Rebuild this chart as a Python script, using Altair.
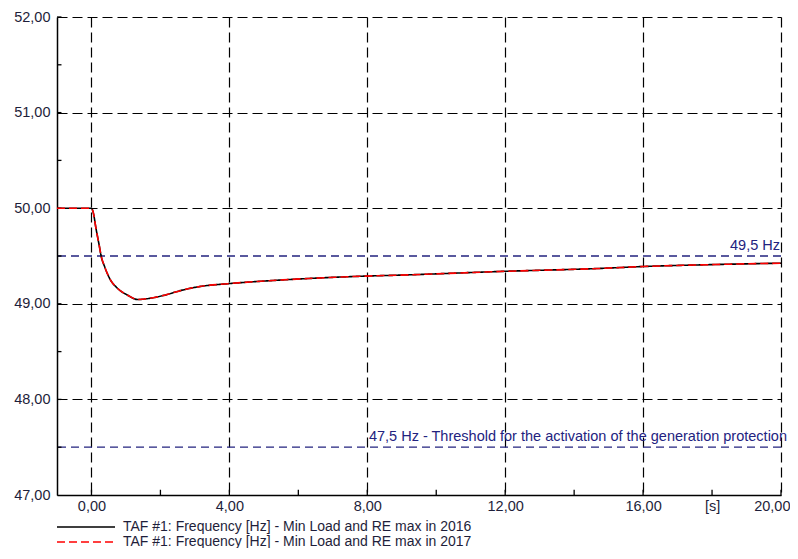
import altair as alt
import pandas as pd

# ---- data ----
t_2016 = [-1, 0, 0.04, 0.14, 0.23, 0.28, 0.38, 0.52, 0.76, 1.05, 1.34, 1.73, 2.12, 2.6,
          3.13, 3.96, 5.55, 7.97, 8.94, 12.0, 14.75, 16.0, 18.0, 20.0]
f_2016 = [50.0, 50.0, 49.97, 49.77, 49.60, 49.50, 49.39, 49.27, 49.16, 49.09, 49.045, 49.06,
          49.09, 49.14, 49.18, 49.21, 49.25, 49.29, 49.30, 49.34, 49.37, 49.39, 49.41, 49.425]
t_2017 = list(t_2016)
f_2017 = list(f_2016)

series_names = ["TAF #1: Frequency [Hz] - Min Load and RE max in 2016",
                "TAF #1: Frequency [Hz] - Min Load and RE max in 2017"]
series_colors = ["#000000", "#ff0000"]
series_dashes = [[1, 0], [8, 4]]
thresholds = [49.5, 47.5]
threshold_labels = ["49,5 Hz", "47,5 Hz - Threshold for the activation of the generation protection"]
x_ticks = [0, 4, 8, 12, 16, 18, 20]
x_minor = [2, 6, 10, 14, 18]
x_major = [0, 4, 8, 12, 16, 20]
y_ticks = [47, 48, 49, 50, 51, 52]
y_minor = [47.5, 48.5, 49.5, 50.5, 51.5]
y_major = [48, 49, 50, 51, 52]

FONT = "Liberation Sans"
FS = 14.5
NAVY = "#23237f"
LABEL = "#1e1e3a"

rows = []
for t, f in zip(t_2016, f_2016):
    rows.append({"t": t, "f": f, "series": series_names[0]})
for t, f in zip(t_2017, f_2017):
    rows.append({"t": t, "f": f, "series": series_names[1]})
df = pd.DataFrame(rows)

xscale = alt.Scale(domain=[-1, 20], nice=False, zero=False)
yscale = alt.Scale(domain=[47, 52], nice=False, zero=False)

fmt = "replace(format(datum.value, '.2f'), '.', ',')"

base_x = alt.X("t:Q", scale=xscale, title=None,
               axis=alt.Axis(values=x_ticks,
                             labelExpr=f"datum.value == 18 ? '[s]' : {fmt}",
                             grid=True, gridDash=[10, 5], gridColor="#000000", gridWidth=1.2,
                             gridOpacity={"condition": {"test": "datum.value == 18", "value": 0}, "value": 1},
                             ticks=False, domainColor="#000000", domainWidth=1.5,
                             labelFont=FONT, labelFontSize=FS, labelColor=LABEL,
                             labelPadding=4, labelFlush=True, labelFlushOffset=9))
base_y = alt.Y("f:Q", scale=yscale, title=None,
               axis=alt.Axis(values=y_ticks, labelExpr=fmt,
                             grid=True, gridDash=[10, 5], gridColor="#000000", gridWidth=1.2,
                             ticks=False, domainColor="#000000", domainWidth=1.5,
                             labelFont=FONT, labelFontSize=FS, labelColor=LABEL,
                             labelPadding=7))

lines = alt.Chart(df).mark_line(strokeWidth=1.6, interpolate="monotone").encode(
    x=base_x,
    y=base_y,
    color=alt.Color("series:N", scale=alt.Scale(domain=series_names, range=series_colors),
                    legend=None),
    strokeDash=alt.StrokeDash("series:N", scale=alt.Scale(domain=series_names, range=series_dashes),
                              legend=None),
    order=alt.Order("series:N"),
)

th_df = pd.DataFrame({"y": thresholds, "label": threshold_labels, "x": [20, 20]})
th_rules = alt.Chart(th_df).mark_rule(color=NAVY, strokeDash=[8, 5], strokeWidth=1.3).encode(
    y=alt.Y("y:Q", scale=yscale))
th_text1 = alt.Chart(th_df.iloc[[0]]).mark_text(
    align="right", baseline="bottom", dy=-3, dx=-1, font=FONT, fontSize=FS, color=NAVY).encode(
    x=alt.X("x:Q", scale=xscale), y=alt.Y("y:Q", scale=yscale), text="label:N")
th_text2 = alt.Chart(th_df.iloc[[1]]).mark_text(
    align="right", baseline="bottom", dy=-3, dx=6, font=FONT, fontSize=FS, color=NAVY).encode(
    x=alt.X("x:Q", scale=xscale), y=alt.Y("y:Q", scale=yscale), text="label:N")

# inside tick marks
xt_df = pd.DataFrame({"t": x_minor + x_major, "y0": 47.0, "y1": 47.055})
xt = alt.Chart(xt_df).mark_rule(color="#000000", strokeWidth=1.3).encode(
    x=alt.X("t:Q", scale=xscale), y=alt.Y("y0:Q", scale=yscale), y2="y1:Q")
yt_df = pd.DataFrame({"f": y_minor + y_major, "x0": -1.0, "x1": -0.87})
yt = alt.Chart(yt_df).mark_rule(color="#000000", strokeWidth=1.3).encode(
    y=alt.Y("f:Q", scale=yscale), x=alt.X("x0:Q", scale=xscale), x2="x1:Q")

# legend (drawn below the plot)
leg_layers = []
for i, (name, col, dash) in enumerate(zip(series_names, series_colors, series_dashes)):
    ly = 510 + 15 * i
    leg_df = pd.DataFrame({"label": [name]})
    leg_layers.append(alt.Chart(leg_df).mark_rule(color=col, strokeDash=dash, strokeWidth=1.5).encode(
        x=alt.value(0), x2=alt.value(58), y=alt.value(ly)))
    leg_layers.append(alt.Chart(leg_df).mark_text(
        align="left", baseline="middle", font=FONT, fontSize=14, color=LABEL).encode(
        x=alt.value(66), y=alt.value(ly), text="label:N"))

chart = alt.layer(th_rules, xt, yt, lines, th_text1, th_text2, *leg_layers).properties(
    width=724, height=478,
    autosize=alt.AutoSizeParams(type="none"),
    padding={"left": 49, "top": 9, "right": 9, "bottom": 53},
    background="#ffffff",
).configure_view(stroke=None)

chart.save("out.html", embed_options={"renderer": "svg", "actions": False})
